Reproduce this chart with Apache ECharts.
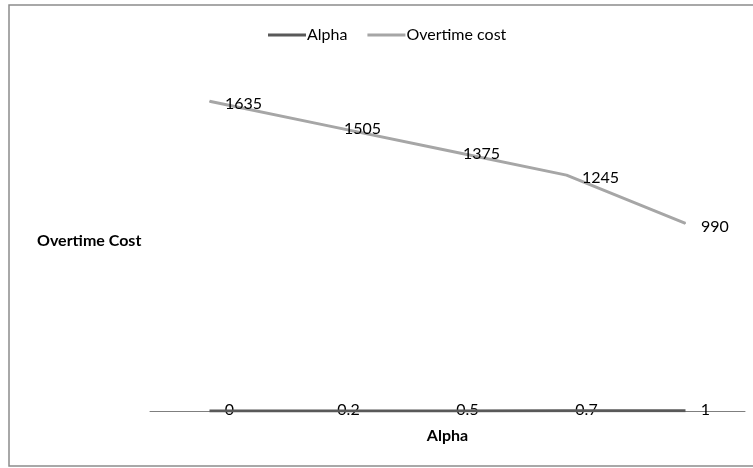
<!DOCTYPE html>
<html>
<head>
<meta charset="utf-8">
<script src="https://cdn.jsdelivr.net/npm/echarts@6/dist/echarts.min.js"></script>
<style>
  html, body { margin: 0; padding: 0; background: #fff; }
  #chart { width: 753px; height: 468px; }
</style>
</head>
<body>
<div id="chart"></div>
<script>
var categories = ['0', '0.2', '0.5', '0.7', '1'];
var alphaValues = [0, 0.2, 0.5, 0.7, 1];
var overtimeCost = [1635, 1505, 1375, 1245, 990];

var chart = echarts.init(document.getElementById('chart'));
var font = 'Lato, "Open Sans", sans-serif';

chart.setOption({
    animation: false,
    textStyle: { fontFamily: font },
    graphic: [
        {
            type: 'rect',
            shape: { x: 9, y: 5, width: 760, height: 461 },
            style: { fill: 'none', stroke: '#8c8c8c', lineWidth: 1.5 }
        },
        {
            type: 'text',
            left: 37, top: 233,
            style: { text: 'Overtime Cost', font: 'bold 16px ' + font, fill: '#000' }
        }
    ],
    legend: {
        top: 22,
        left: 263,
        itemWidth: 38,
        itemHeight: 3,
        itemGap: 20,
        icon: 'rect',
        textStyle: { fontSize: 16, color: '#000', fontFamily: font, padding: [0, 0, 0, -4] },
        data: ['Alpha', 'Overtime cost']
    },
    grid: { left: 150, right: 8, top: 70, bottom: 57 },
    xAxis: {
        type: 'category',
        data: categories,
        boundaryGap: true,
        name: 'Alpha',
        nameLocation: 'middle',
        nameGap: 17,
        nameTextStyle: { fontSize: 16, fontWeight: 'bold', color: '#000', fontFamily: font },
        axisLine: { lineStyle: { color: '#7f7f7f', width: 1 } },
        axisTick: { show: false },
        axisLabel: {
            color: '#000', fontSize: 16, fontFamily: font,
            margin: -9, padding: [0, 0, 0, 40]
        }
    },
    yAxis: {
        type: 'value',
        min: 0,
        max: 1800,
        show: false
    },
    series: [
        {
            name: 'Alpha',
            type: 'line',
            data: alphaValues,
            symbol: 'none',
            z: 1,
            lineStyle: { color: '#595959', width: 3 },
            itemStyle: { color: '#595959' }
        },
        {
            name: 'Overtime cost',
            type: 'line',
            data: overtimeCost,
            symbol: 'circle',
            symbolSize: 1,
            showSymbol: true,
            lineStyle: { color: '#a6a6a6', width: 3 },
            itemStyle: { color: '#a6a6a6' },
            label: {
                show: true,
                position: 'right',
                distance: 15,
                offset: [0, 3],
                color: '#000',
                fontSize: 16,
                fontFamily: font
            }
        }
    ]
});
</script>
</body>
</html>
